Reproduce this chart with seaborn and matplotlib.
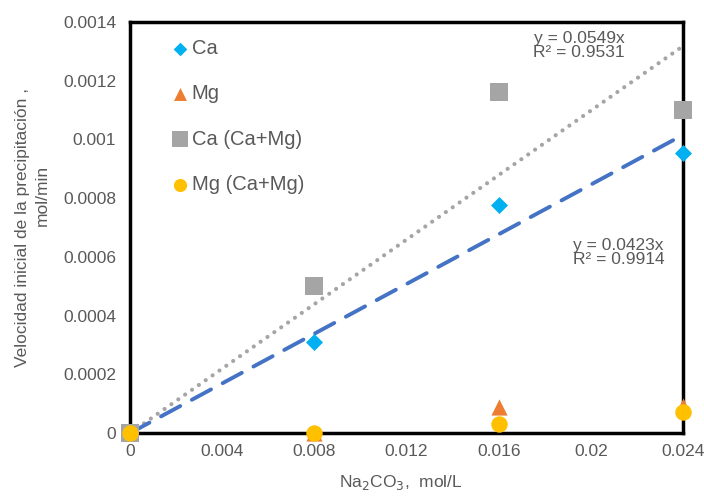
import numpy as np
import pandas as pd
import matplotlib
matplotlib.use('Agg')
import matplotlib.pyplot as plt
import seaborn as sns

sns.set_style('white')
plt.rcParams['font.family'] = ['Liberation Sans', 'DejaVu Sans']

na2co3 = [0, 0.008, 0.016, 0.024]
ca = [0, 0.00031, 0.000777, 0.000955]
mg = [0, 0.0, 0.000088, 0.000093]
ca_camg = [0, 0.0005, 0.00116, 0.0011]
mg_camg = [0, 0.0, 0.000031, 0.000072]

slope_ca = 0.0423
slope_ca_camg = 0.0549

grey = '#595959'

fig = plt.figure(figsize=(7.04, 5), dpi=100)
ax = fig.add_axes([0.185, 0.134, 0.785, 0.822])

trend = pd.DataFrame({'x': na2co3})
sns.lineplot(x=trend['x'], y=trend['x'] * slope_ca_camg, ax=ax, color='#A5A5A5',
             lw=3, linestyle=(0, (0.01, 2.0)), dash_capstyle='round', zorder=2)
sns.lineplot(x=trend['x'], y=trend['x'] * slope_ca, ax=ax, color='#4472C4',
             lw=2.8, linestyle=(0, (5.6, 3.4)), dash_capstyle='round', zorder=2)

series = [
    ('Ca', ca, '#00B0F0', 'D', 75),
    ('Mg', mg, '#ED7D31', '^', 135),
    ('Ca (Ca+Mg)', ca_camg, '#A5A5A5', 's', 185),
    ('Mg (Ca+Mg)', mg_camg, '#FFC000', 'o', 140),
]
for name, vals, col, mk, sz in series:
    sns.scatterplot(x=na2co3, y=vals, ax=ax, color=col, marker=mk, s=sz,
                    edgecolor=col, linewidth=0, label=name, clip_on=False, zorder=3)

ax.set_xlim(0, 0.024)
ax.set_ylim(0, 0.0014)
ax.set_xticks(np.arange(0, 0.0241, 0.004))
ax.set_xticklabels(['0', '0.004', '0.008', '0.012', '0.016', '0.02', '0.024'])
ax.set_yticks(np.arange(0, 0.00141, 0.0002))
ax.set_yticklabels(['0', '0.0002', '0.0004', '0.0006', '0.0008', '0.001', '0.0012', '0.0014'])
ax.tick_params(direction='in', length=5, width=1.5, colors='black', labelcolor=grey,
               labelsize=12.5)
ax.tick_params(axis='x', pad=8)
ax.tick_params(axis='y', pad=10)
for sp in ax.spines.values():
    sp.set_linewidth(2.5)
    sp.set_color('black')

ax.set_xlabel('Na$_2$CO$_3$,  mol/L', color=grey, fontsize=12.5)
ax.xaxis.set_label_coords(0.49, -0.098)
# second line of the y title sits a bit off-centre, as in the original
ax.set_ylabel('Velocidad inicial de la precipitación ,', color=grey, fontsize=12.5)
ax.yaxis.set_label_coords(-0.182, 0.5)
ax.text(-0.146, 0.579, 'mol/min', transform=ax.transAxes, rotation=90,
        color=grey, fontsize=12.5, ha='right', va='center')

ax.text(0.0195, 0.00137, 'y = 0.0549x\nR² = 0.9531', color=grey, fontsize=12.5,
        ha='center', va='top', linespacing=0.95)
ax.text(0.0212, 0.000665, 'y = 0.0423x\nR² = 0.9914', color=grey, fontsize=12.5,
        ha='center', va='top', linespacing=0.95)

leg = ax.legend(loc='upper left', bbox_to_anchor=(0.075, 0.958), frameon=False,
                fontsize=14.5, labelspacing=1.3, handletextpad=0.15,
                handlelength=0.85, markerscale=0.8, borderaxespad=0, borderpad=0)
for t in leg.get_texts():
    t.set_color(grey)

fig.savefig('out.png', dpi=100)
